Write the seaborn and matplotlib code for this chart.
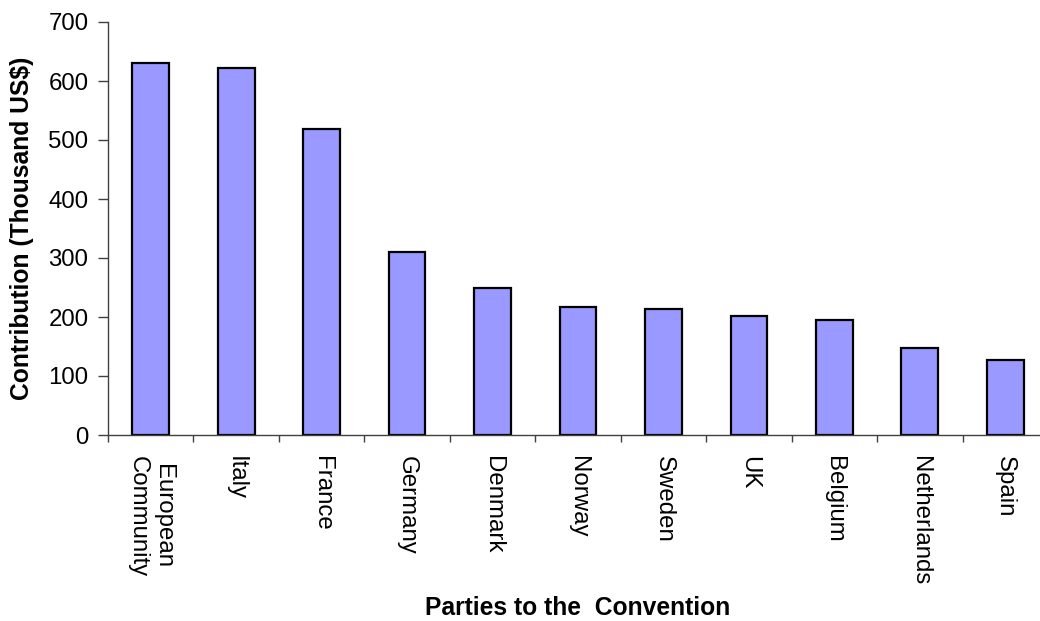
import matplotlib
matplotlib.use("Agg")
import matplotlib.pyplot as plt
import seaborn as sns
import pandas as pd

# Contributions by party (thousand US$)
parties = ["European\nCommunity", "Italy", "France", "Germany", "Denmark", "Norway",
           "Sweden", "UK", "Belgium", "Netherlands", "Spain"]
contributions = [631, 622, 519, 311, 250, 217, 214, 202, 195, 147, 127]
y_ticks = [0, 100, 200, 300, 400, 500, 600, 700]

sns.set_theme(style="white")
plt.rcParams["font.family"] = ["Liberation Sans", "DejaVu Sans"]
plt.rcParams["text.color"] = "black"
plt.rcParams["axes.labelcolor"] = "black"
plt.rcParams["xtick.color"] = "black"
plt.rcParams["ytick.color"] = "black"

df = pd.DataFrame({"party": parties, "value": contributions})

fig = plt.figure(figsize=(10.40, 6.21), dpi=100)
ax = fig.add_axes([108 / 1040, 186 / 621, 940 / 1040, 413 / 621])

sns.barplot(data=df, x="party", y="value", color="#9999FF", saturation=1,
            edgecolor="black", linewidth=1.6, width=0.43, ax=ax)

ax.set_xlim(-0.5, len(parties) - 0.5)
ax.set_ylim(0, 700)
ax.set_yticks(y_ticks)

for side in ("top", "right"):
    ax.spines[side].set_visible(False)
for side in ("left", "bottom"):
    ax.spines[side].set_color("#404040")
    ax.spines[side].set_linewidth(1.0)

# category separators as minor ticks, labels centred on bars
ax.set_xticks([i - 0.5 for i in range(len(parties) + 1)], minor=True)
ax.tick_params(axis="x", which="minor", direction="out", length=5, width=1,
               color="#404040", bottom=True)
ax.tick_params(axis="x", which="major", length=0, pad=15, labelcolor="black")
ax.tick_params(axis="y", direction="out", length=7, width=1, color="#404040",
               left=True, pad=7, labelsize=17.3, labelcolor="black")

ax.set_xticks(range(len(parties)))
ax.set_xticklabels(parties, rotation=270, fontsize=17.3, ha="center", va="top",
                   multialignment="center")

ax.set_ylabel("Contribution (Thousand US$)", fontsize=17.7, fontweight="bold",
              va="center")
ax.yaxis.set_label_coords(-(108 - 22) / 940, 0.5)
ax.set_xlabel("Parties to the  Convention", fontsize=17.7, fontweight="bold",
              va="center")
ax.xaxis.set_label_coords(0.5, -(608 - 435) / 413)
ax.grid(False)

fig.savefig("out.png", dpi=100)
